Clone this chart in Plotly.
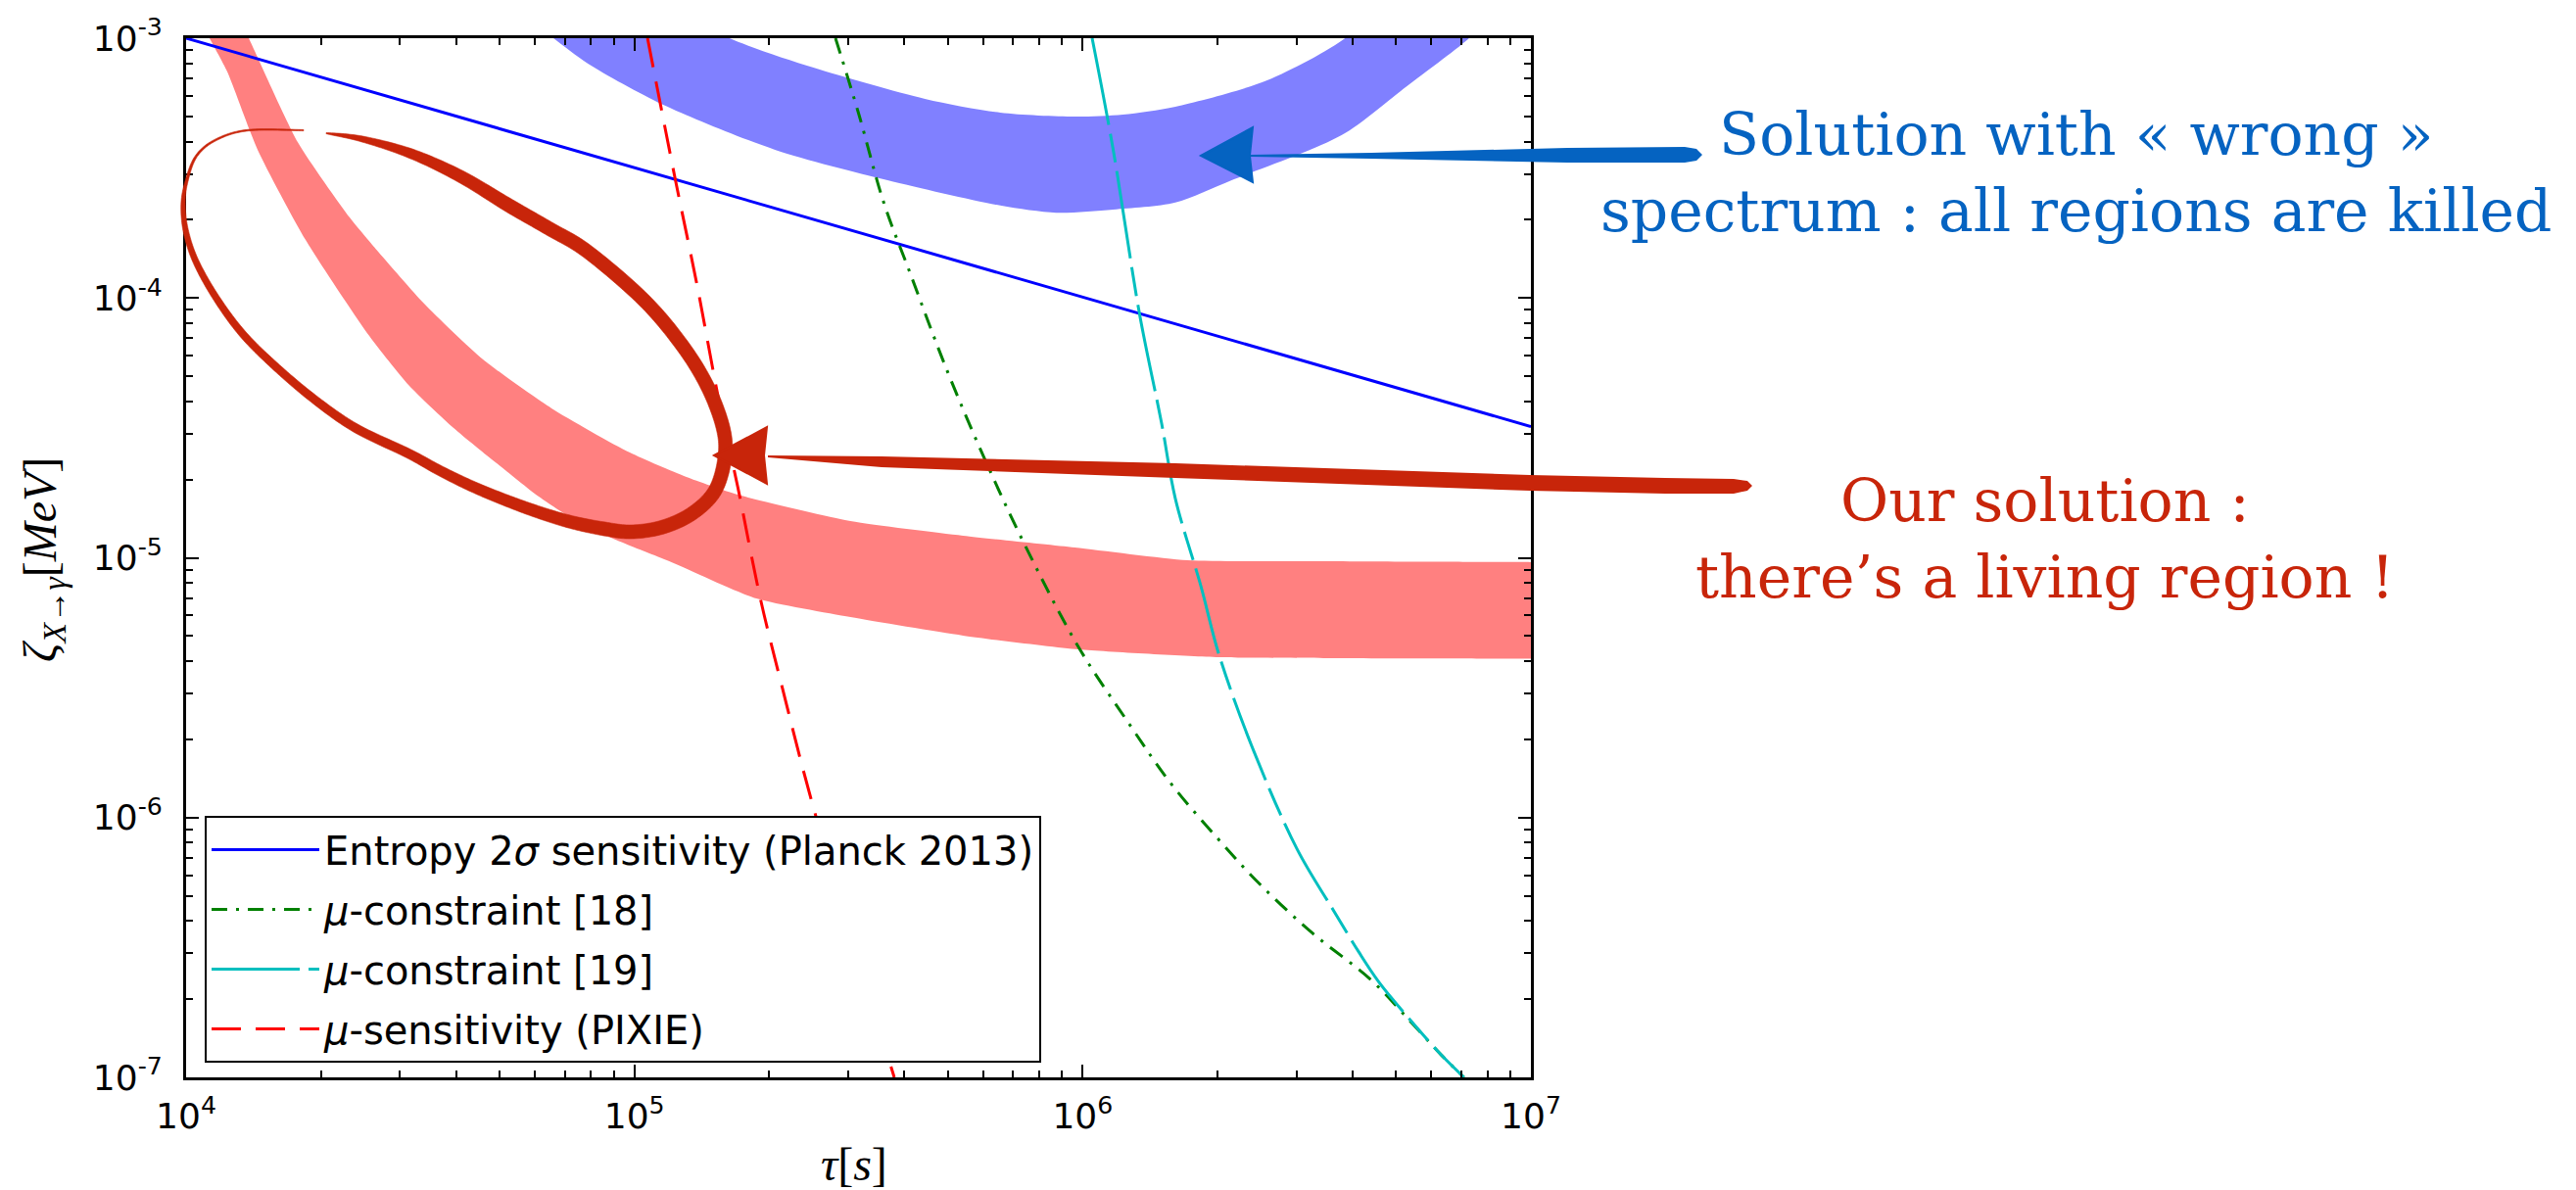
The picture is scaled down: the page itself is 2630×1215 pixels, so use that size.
import numpy as np
import plotly.graph_objects as go

# ---------------- data ----------------
tau_entropy = [1.0e4, 1.0e7]
zeta_entropy = [1.0e-3, 3.2e-5]

tau_mu18 = [2.81e5, 3.16e5, 3.60e5, 4.12e5, 4.99e5, 6.08e5, 7.51e5, 9.80e5, 1.26e6,
            1.57e6, 1.99e6, 2.47e6, 3.25e6, 4.39e6, 5.32e6, 6.31e6, 7.09e6]
zeta_mu18 = [1.0e-3, 5.17e-4, 2.33e-4, 1.25e-4, 5.23e-5, 2.35e-5, 1.08e-5, 4.52e-6, 2.34e-6,
             1.36e-6, 8.4e-7, 5.6e-7, 3.6e-7, 2.38e-7, 1.68e-7, 1.22e-7, 1.0e-7]

tau_mu19 = [1.05e6, 1.17e6, 1.34e6, 1.50e6, 1.61e6, 1.84e6, 2.01e6, 2.40e6, 3.01e6,
            3.61e6, 4.13e6, 4.57e6, 5.32e6, 6.31e6, 7.09e6]
zeta_mu19 = [1.0e-3, 3.72e-4, 8.65e-5, 3.30e-5, 1.69e-5, 7.67e-6, 4.29e-6, 1.83e-6, 7.55e-7,
             4.45e-7, 3.04e-7, 2.34e-7, 1.70e-7, 1.22e-7, 1.0e-7]

tau_pixie = [1.07e5, 1.23e5, 1.38e5, 1.55e5, 1.70e5, 1.91e5, 2.14e5, 2.51e5, 3.80e5]
zeta_pixie = [1.0e-3, 2.94e-4, 1.12e-4, 3.89e-5, 1.88e-5, 6.97e-6, 3.14e-6, 1.09e-6, 1.0e-7]

# "wrong spectrum" band (blue): outer edge left->right, inner edge right->left
tau_wrong_outer = [5.27e4, 6.60e4, 7.88e4, 1.16e5, 2.06e5, 3.67e5, 6.55e5, 8.73e5, 1.17e6,
                   1.61e6, 2.15e6, 3.78e6, 5.29e6, 7.23e6, 8.49e6]
zeta_wrong_outer = [1.34e-3, 1.0e-3, 7.98e-4, 5.54e-4, 3.72e-4, 2.84e-4, 2.27e-4, 2.13e-4, 2.19e-4,
                    2.33e-4, 2.84e-4, 4.23e-4, 6.54e-4, 9.9e-4, 1.29e-3]
tau_wrong_inner = [4.41e6, 3.85e6, 2.58e6, 1.61e6, 1.23e6, 9.61e5, 6.55e5, 4.45e5, 2.51e5, 1.63e5, 1.24e5]
zeta_wrong_inner = [1.29e-3, 1.0e-3, 6.88e-4, 5.45e-4, 5.08e-4, 4.99e-4, 5.17e-4, 5.84e-4, 7.70e-4,
                    1.0e-3, 1.29e-3]

# "our solution" band (red): lower edge top->right, upper edge right->top
tau_ours_lower = [1.046e4, 1.128e4, 1.235e4, 1.444e4, 1.848e4, 2.563e4, 3.134e4, 3.952e4, 4.931e4,
                  6.12e4, 7.49e4, 9.30e4, 1.196e5, 1.871e5, 3.034e5, 5.41e5, 9.80e5, 2.013e6,
                  3.5e6, 6.0e6, 1.0e7, 1.2e7]
zeta_ours_lower = [1.29e-3, 1.0e-3, 7.44e-4, 3.72e-4, 1.673e-4, 7.14e-5, 4.63e-5, 3.16e-5, 2.31e-5,
                   1.72e-5, 1.373e-5, 1.154e-5, 9.70e-6, 6.97e-6, 5.91e-6, 5.02e-6, 4.44e-6, 4.14e-6,
                   4.11e-6, 4.10e-6, 4.09e-6, 4.09e-6]
tau_ours_upper = [1.2e7, 1.0e7, 6.0e6, 3.5e6, 1.714e6, 9.61e5, 5.41e5, 3.034e5, 1.70e5, 1.302e5,
                  9.77e4, 6.537e4, 4.596e4, 3.397e4, 2.602e4, 2.317e4, 1.775e4, 1.38e4, 1.286e4]
zeta_ours_upper = [9.62e-6, 9.62e-6, 9.65e-6, 9.70e-6, 9.78e-6, 1.095e-5, 1.216e-5, 1.384e-5, 1.75e-5,
                   2.05e-5, 2.54e-5, 3.76e-5, 5.80e-5, 9.51e-5, 1.602e-4, 2.04e-4, 3.98e-4, 1.0e-3,
                   1.29e-3]

x_tick_vals = [1e4, 1e5, 1e6, 1e7]
x_tick_text = ["10<sup>4</sup>", "10<sup>5</sup>", "10<sup>6</sup>", "10<sup>7</sup>"]
y_tick_vals = [1e-7, 1e-6, 1e-5, 1e-4, 1e-3]
y_tick_text = ["10<sup>-7</sup>", "10<sup>-6</sup>", "10<sup>-5</sup>", "10<sup>-4</sup>", "10<sup>-3</sup>"]
x_minor = [m * 10 ** e for e in range(4, 7) for m in range(2, 10)]
y_minor = [m * 10.0 ** e for e in range(-7, -3) for m in range(2, 10)]

legend_names = ["Entropy 2<i>σ</i> sensitivity (Planck 2013)",
                "<i>μ</i>-constraint [18]",
                "<i>μ</i>-constraint [19]",
                "<i>μ</i>-sensitivity (PIXIE)"]

# ---------------- layout geometry ----------------
W, H = 2630, 1215
L, R, T, B = 190, 1563, 39, 1100   # plot-area pixel box
PW, PH = R - L, B - T

RED_ANN = "#C8250A"
BLUE_ANN = "#0563C1"


def P(x, y):
    """figure pixel -> paper coords"""
    return (x - L) / PW, (B - y) / PH


def poly_path(pts):
    q = [P(*p) for p in pts]
    return "M " + " L ".join("%.5f,%.5f" % p for p in q) + " Z"


def brush_stroke(pts, w_at, w_val, nsamp=14):
    """Outline polygon (pixel coords) of a variable-width stroke along a Catmull-Rom curve."""
    p = [np.array(v, dtype=float) for v in pts]
    n = len(p)
    left, right = [], []
    for i in range(n - 1):
        p0 = p[i - 1] if i > 0 else p[i]
        p1, p2 = p[i], p[i + 1]
        p3 = p[i + 2] if i + 2 < n else p[i + 1]
        c1 = p1 + (p2 - p0) / 6
        c2 = p2 - (p3 - p1) / 6
        ts = np.linspace(0, 1, nsamp + 1)
        if i > 0:
            ts = ts[1:]
        for t in ts:
            pos = (1 - t) ** 3 * p1 + 3 * (1 - t) ** 2 * t * c1 + 3 * (1 - t) * t ** 2 * c2 + t ** 3 * p2
            d = 3 * (1 - t) ** 2 * (c1 - p1) + 6 * (1 - t) * t * (c2 - c1) + 3 * t ** 2 * (p2 - c2)
            nrm = np.array([-d[1], d[0]]) / (np.hypot(*d) + 1e-9)
            w = float(np.interp(i + t, w_at, w_val)) / 2
            left.append(tuple(pos + nrm * w))
            right.append(tuple(pos - nrm * w))
    return left + right[::-1]


fig = go.Figure()

fig.add_trace(go.Scatter(x=tau_wrong_outer + tau_wrong_inner, y=zeta_wrong_outer + zeta_wrong_inner,
                         mode="lines", fill="toself", fillcolor="#8080FF",
                         line=dict(width=0, color="#8080FF", shape="spline", smoothing=0.8),
                         showlegend=False, hoverinfo="skip"))
fig.add_trace(go.Scatter(x=tau_ours_lower + tau_ours_upper, y=zeta_ours_lower + zeta_ours_upper,
                         mode="lines", fill="toself", fillcolor="#FF8080",
                         line=dict(width=0, color="#FF8080", shape="spline", smoothing=0.6),
                         showlegend=False, hoverinfo="skip"))

fig.add_trace(go.Scatter(x=tau_entropy, y=zeta_entropy, mode="lines", name=legend_names[0],
                         line=dict(color="#0000FF", width=3), legendgroup="a"))
fig.add_trace(go.Scatter(x=tau_mu18, y=zeta_mu18, mode="lines", name=legend_names[1],
                         line=dict(color="#008000", width=3, dash="16px,9px,3px,9px", shape="spline"),
                         legendgroup="b"))
fig.add_trace(go.Scatter(x=tau_mu19, y=zeta_mu19, mode="lines", name=legend_names[2],
                         line=dict(color="#00BFBF", width=3, dash="90px,9px,30px,9px", shape="spline"),
                         legendgroup="c"))
fig.add_trace(go.Scatter(x=tau_pixie, y=zeta_pixie, mode="lines", name=legend_names[3],
                         line=dict(color="#FF0000", width=3, dash="30px,15px", shape="spline"),
                         legendgroup="d"))

axis_common = dict(type="log", showgrid=False, zeroline=False, showline=True, linecolor="black",
                   linewidth=3, mirror="allticks", ticks="inside", ticklen=13, tickwidth=2,
                   tickcolor="black", tickmode="array",
                   tickfont=dict(family="DejaVu Sans", size=36, color="black"))

fig.update_xaxes(range=[4, 7], tickvals=x_tick_vals, ticktext=x_tick_text, ticklabelstandoff=6,
                 minor=dict(tickmode="array", tickvals=x_minor, ticks="inside", ticklen=7,
                            tickwidth=1.5, tickcolor="black", showgrid=False),
                 **axis_common)
fig.update_yaxes(range=[-7, -3], tickvals=y_tick_vals, ticktext=y_tick_text, ticklabelstandoff=14,
                 minor=dict(tickmode="array", tickvals=y_minor, ticks="inside", ticklen=7,
                            tickwidth=1.5, tickcolor="black", showgrid=False),
                 **axis_common)

shapes = []
# hand-drawn loop around "our" solution (pixel guide points of the annotation stroke)
loop_pts = [(333, 136), (370, 142), (420, 157), (470, 180), (520, 210), (560, 233), (600, 257),
            (657, 306), (696, 352), (722, 394), (738, 436), (740, 467), (730, 501), (707, 524),
            (677, 538), (645, 543), (617, 540), (583, 533), (550, 523), (517, 511), (483, 497),
            (450, 481), (417, 463), (363, 437), (320, 407), (280, 373), (247, 340), (220, 303),
            (200, 267), (190, 237), (187, 210), (190, 187), (200, 160), (220, 143), (253, 133),
            (310, 133)]
# stroke width profile along the guide points (pen pressure)
w_at = [0, 1, 2, 3, 4, 16, 17, 20, 23, 26, 29, 30, 31, 32, 35]
w_val = [1, 6, 10, 12.5, 14, 14, 13, 11, 9, 7.5, 5.5, 4.5, 3, 2.2, 1.2]
shapes.append(dict(type="path", path=poly_path(brush_stroke(loop_pts, w_at, w_val)),
                   xref="paper", yref="paper", fillcolor=RED_ANN,
                   line=dict(color=RED_ANN, width=0.6), layer="above"))

# red arrow
red_shaft = [(784, 465), (900, 466), (1200, 473), (1562, 485), (1700, 488), (1770, 489), (1784, 491),
             (1789, 496), (1784, 501), (1770, 504), (1700, 504), (1562, 501), (1200, 488), (900, 477), (784, 467)]
red_head = [(729, 465), (783, 436), (780, 465), (783, 494)]
shapes.append(dict(type="path", path=poly_path(red_shaft), xref="paper", yref="paper",
                   fillcolor=RED_ANN, line=dict(width=0), layer="above"))
shapes.append(dict(type="path", path=poly_path(red_head), xref="paper", yref="paper",
                   fillcolor=RED_ANN, line=dict(color=RED_ANN, width=2), layer="above"))

# blue arrow
blue_shaft = [(1276, 158), (1400, 156), (1600, 151), (1720, 150), (1732, 152), (1738, 158),
              (1732, 164), (1720, 166), (1600, 166), (1400, 162), (1276, 160)]
blue_head = [(1226, 159), (1279, 130), (1276, 159), (1279, 186)]
shapes.append(dict(type="path", path=poly_path(blue_shaft), xref="paper", yref="paper",
                   fillcolor=BLUE_ANN, line=dict(width=0), layer="above"))
shapes.append(dict(type="path", path=poly_path(blue_head), xref="paper", yref="paper",
                   fillcolor=BLUE_ANN, line=dict(color=BLUE_ANN, width=2), layer="above"))

annotations = []
ax, ay = P(2120, 176)
annotations.append(dict(x=ax, y=ay, xref="paper", yref="paper", xanchor="center", yanchor="middle",
                        showarrow=False, align="center",
                        text="Solution with « wrong »<br>spectrum : all regions are killed",
                        font=dict(family="DejaVu Serif", size=60, color=BLUE_ANN)))
ax, ay = P(2088, 550)
annotations.append(dict(x=ax, y=ay, xref="paper", yref="paper", xanchor="center", yanchor="middle",
                        showarrow=False, align="center",
                        text="Our solution :<br>there’s a living region !",
                        font=dict(family="DejaVu Serif", size=60, color=RED_ANN)))
# axis titles
ax, ay = P(44, 572)
annotations.append(dict(x=ax, y=ay, xref="paper", yref="paper", xanchor="center", yanchor="middle",
                        showarrow=False, textangle=-90,
                        text="<i>ζ</i><sub><i>X</i>→<i>γ</i></sub>[<i>MeV</i>]",
                        font=dict(family="Liberation Serif", size=48, color="black")))
ax, ay = P(872, 1188)
annotations.append(dict(x=ax, y=ay, xref="paper", yref="paper", xanchor="center", yanchor="middle",
                        showarrow=False, text="<i>τ</i>[<i>s</i>]",
                        font=dict(family="Liberation Serif", size=48, color="black")))

lx, ly = P(209, 833)
fig.update_layout(
    width=W, height=H,
    margin=dict(l=L, r=W - R, t=T, b=H - B, pad=0, autoexpand=False),
    paper_bgcolor="white", plot_bgcolor="white",
    showlegend=True,
    legend=dict(x=lx, y=ly, xanchor="left", yanchor="top", bgcolor="white",
                bordercolor="black", borderwidth=2, traceorder="grouped", tracegroupgap=6,
                itemwidth=110,
                font=dict(family="DejaVu Sans", size=40, color="black")),
    shapes=shapes, annotations=annotations,
)

fig.write_html("out.html")
